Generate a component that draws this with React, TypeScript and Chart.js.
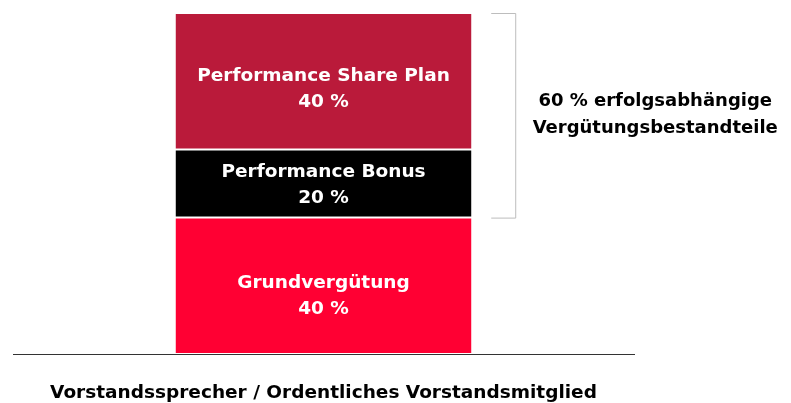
import React, { useEffect, useRef } from "react";
import { Chart, registerables } from "chart.js";

Chart.register(...registerables);

const categories = ["Vorstandssprecher / Ordentliches Vorstandsmitglied"];
const segmentNames = ["Grundvergütung", "Performance Bonus", "Performance Share Plan"];
const grundValues = [40];
const bonusValues = [20];
const sharePlanValues = [40];
const segmentColors = ["#FF0033", "#000000", "#BA1A3A"];
const labelOffsets = [10, 1.5, 7.5];
const bracketLines = ["60 % erfolgsabhängige", "Vergütungsbestandteile"];
const bracketFrom = 40;
const bracketTo = 100;

const FONT = '"DejaVu Sans", sans-serif';
const FONT_SIZE = 18.5;

const labelPlugin = {
  id: "segmentLabels",
  afterDatasetsDraw(chart: any) {
    const ctx = chart.ctx;
    ctx.save();
    ctx.font = `bold ${FONT_SIZE}px ${FONT}`;
    ctx.fillStyle = "#ffffff";
    ctx.textAlign = "center";
    ctx.textBaseline = "middle";
    chart.data.datasets.forEach((ds: any, i: number) => {
      const meta = chart.getDatasetMeta(i);
      meta.data.forEach((el: any, j: number) => {
        const cy = (el.y + el.base) / 2 + labelOffsets[i];
        ctx.fillText(ds.label, el.x, cy - 13);
        ctx.fillText(`${ds.data[j]} %`, el.x, cy + 13);
      });
    });
    // bracket
    const y = chart.scales.y;
    const el = chart.getDatasetMeta(0).data[0] as any;
    const right = el.x + el.width / 2;
    const x0 = right + 19;
    const x1 = right + 43;
    const top = y.getPixelForValue(bracketTo);
    const bottom = y.getPixelForValue(bracketFrom);
    ctx.strokeStyle = "#bdbdbd";
    ctx.lineWidth = 1;
    ctx.beginPath();
    ctx.moveTo(x0, top + 0.5);
    ctx.lineTo(x1 + 0.5, top + 0.5);
    ctx.lineTo(x1 + 0.5, bottom + 0.5);
    ctx.lineTo(x0, bottom + 0.5);
    ctx.stroke();
    ctx.fillStyle = "#000000";
    ctx.font = `bold 18px ${FONT}`;
    const mid = (top + bottom) / 2 - 0.5;
    const tx = x1 + 140;
    ctx.fillText(bracketLines[0], tx, mid - 13.5);
    ctx.fillText(bracketLines[1], tx, mid + 13.5);
    ctx.restore();
  },
};

export default function App() {
  const ref = useRef<HTMLCanvasElement | null>(null);
  useEffect(() => {
    if (!ref.current) return;
    const values = [grundValues, bonusValues, sharePlanValues];
    const chart = new Chart(ref.current, {
      type: "bar",
      data: {
        labels: categories,
        datasets: segmentNames.map((name, i) => ({
          label: name,
          data: values[i],
          backgroundColor: segmentColors[i],
          borderColor: "#ffffff",
          borderWidth: 1,
          borderSkipped: false,
          categoryPercentage: 1,
          barPercentage: 0.479,
        })),
      },
      options: {
        animation: false,
        responsive: false,
        maintainAspectRatio: false,
        layout: { padding: { left: 13, right: 157, top: 13, bottom: 0 } },
        plugins: {
          legend: { display: false },
          tooltip: { enabled: false },
        },
        scales: {
          x: {
            stacked: true,
            grid: { display: false },
            border: { display: true, color: "#333333", width: 1 },
            ticks: {
              color: "#000000",
              font: { family: FONT, size: FONT_SIZE, weight: "bold" },
              padding: 20,
            },
            afterFit: (s: any) => {
              s.height = 49;
            },
          },
          y: {
            stacked: true,
            display: false,
            min: 0,
            max: 100,
          },
        },
      },
      plugins: [labelPlugin],
    });
    return () => chart.destroy();
  }, []);
  return (
    <div style={{ position: "absolute", left: 0, top: 0, width: 791, height: 403 }}>
      <canvas ref={ref} width={791} height={403} style={{ width: 791, height: 403 }} />
    </div>
  );
}
